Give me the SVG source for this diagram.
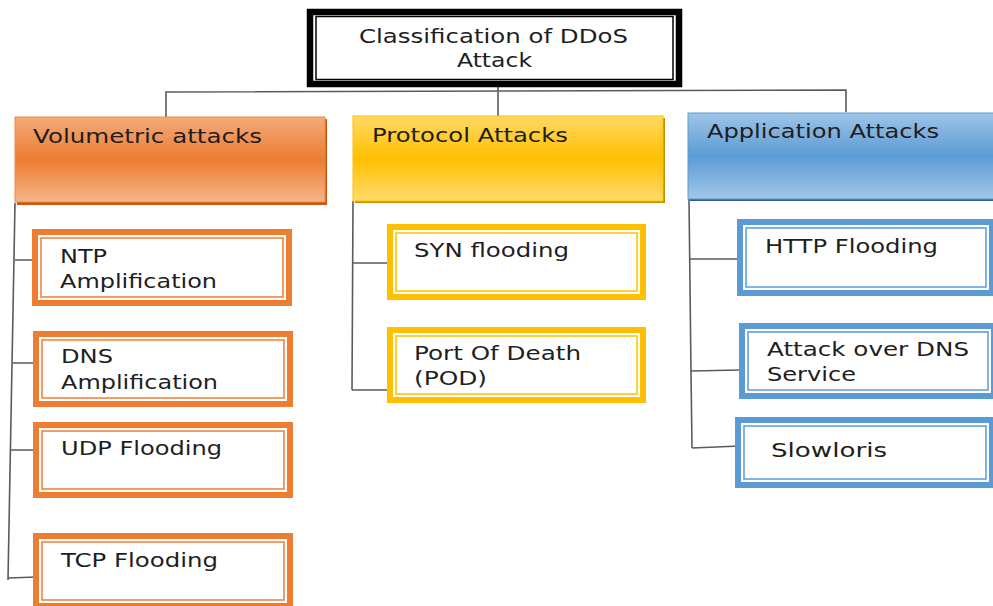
<svg xmlns="http://www.w3.org/2000/svg" width="993" height="606" viewBox="0 0 993 606">
<defs>
<linearGradient id="gOr" x1="0" y1="0" x2="0" y2="1">
<stop offset="0" stop-color="#F3AA7B"/><stop offset="0.5" stop-color="#ED7D31"/><stop offset="1" stop-color="#F5B48A"/>
</linearGradient>
<linearGradient id="gGd" x1="0" y1="0" x2="0" y2="1">
<stop offset="0" stop-color="#FFD965"/><stop offset="0.5" stop-color="#FFC000"/><stop offset="1" stop-color="#FFDB6E"/>
</linearGradient>
<linearGradient id="gBl" x1="0" y1="0" x2="0" y2="1">
<stop offset="0" stop-color="#9EC4E7"/><stop offset="0.5" stop-color="#5B9BD5"/><stop offset="1" stop-color="#A3C7E8"/>
</linearGradient>
</defs>
<style>
text{font-family:"DejaVu Sans",Verdana,sans-serif;font-size:20px;fill:#1e1e1e}
.conn{stroke:#5a5a5a;stroke-width:1.6;fill:none}
.oT{fill:#fff;stroke:#ED7D31;stroke-width:6}
.oI{fill:none;stroke:#ED7D31;stroke-width:1.5}
.yT{fill:#fff;stroke:#FFC000;stroke-width:6}
.yI{fill:none;stroke:#FFC000;stroke-width:1.5}
.bT{fill:#fff;stroke:#5B9BD5;stroke-width:6}
.bI{fill:none;stroke:#5B9BD5;stroke-width:1.5}
</style>
<rect width="993" height="606" fill="#fff"/>
<g id="connectors">
<path class="conn" d="M498 87 V117 M166 117 V92 L846 90 V112"/>
<path class="conn" d="M15 203 L8 580 M15 260 H36 M13 363 H36 M11 450 H36 M8 578 L37 577"/>
<path class="conn" d="M353 201 L352 390 M353 263 H390 M352 390 H390"/>
<path class="conn" d="M689 199 L691 372 L692 448 M690 259 H740 M691 371 L740 370 M692 448 L740 446"/>
</g>
<g id="root">
<rect x="310" y="12" width="369" height="72" fill="#fff" stroke="#000" stroke-width="6.5"/>
<rect x="316" y="16.5" width="357" height="63" fill="none" stroke="#000" stroke-width="1.5"/>
<text x="359" y="43" textLength="269" lengthAdjust="spacingAndGlyphs">Classification of DDoS</text>
<text x="457" y="67" textLength="75" lengthAdjust="spacingAndGlyphs">Attack</text>
</g>
<g id="volumetric">
<rect x="17" y="119" width="310" height="86" fill="#C55A11"/>
<rect x="15" y="117" width="310" height="85" fill="url(#gOr)" stroke="#EE8A48" stroke-width="1"/>
<text x="33" y="143" textLength="229" lengthAdjust="spacingAndGlyphs">Volumetric attacks</text>
</g>
<g id="protocol">
<rect x="355" y="118" width="310" height="85" fill="#BF9000"/>
<rect x="353" y="116" width="310" height="85" fill="url(#gGd)" stroke="#FFC000" stroke-width="1"/>
<text x="372" y="142" textLength="196" lengthAdjust="spacingAndGlyphs">Protocol Attacks</text>
</g>
<g id="application">
<rect x="690" y="115" width="310" height="86" fill="#2E5F8F"/>
<rect x="688" y="113" width="310" height="86" fill="url(#gBl)" stroke="#5B9BD5" stroke-width="1"/>
<text x="707" y="138" textLength="232" lengthAdjust="spacingAndGlyphs">Application Attacks</text>
</g>
<g id="ntp">
<rect class="oT" x="35" y="232" width="254" height="71"/>
<rect class="oI" x="41" y="238" width="242" height="59"/>
<text x="60" y="263" textLength="47" lengthAdjust="spacingAndGlyphs">NTP</text>
<text x="60" y="288" textLength="157" lengthAdjust="spacingAndGlyphs">Amplification</text>
</g>
<g id="dns-amp">
<rect class="oT" x="36" y="334" width="254" height="70"/>
<rect class="oI" x="42" y="340" width="242" height="58"/>
<text x="61" y="363" textLength="52" lengthAdjust="spacingAndGlyphs">DNS</text>
<text x="61" y="389" textLength="157" lengthAdjust="spacingAndGlyphs">Amplification</text>
</g>
<g id="udp">
<rect class="oT" x="36" y="425" width="254" height="70"/>
<rect class="oI" x="42" y="431" width="242" height="58"/>
<text x="61" y="455" textLength="161" lengthAdjust="spacingAndGlyphs">UDP Flooding</text>
</g>
<g id="tcp">
<rect class="oT" x="36" y="536" width="254" height="70"/>
<rect class="oI" x="42" y="542" width="242" height="58"/>
<text x="61" y="567" textLength="157" lengthAdjust="spacingAndGlyphs">TCP Flooding</text>
</g>
<g id="syn">
<rect class="yT" x="390" y="227" width="253" height="70"/>
<rect class="yI" x="396" y="233" width="241" height="58"/>
<text x="414" y="257" textLength="155" lengthAdjust="spacingAndGlyphs">SYN flooding</text>
</g>
<g id="pod">
<rect class="yT" x="390" y="330" width="253" height="70"/>
<rect class="yI" x="396" y="336" width="241" height="58"/>
<text x="414" y="360" textLength="167" lengthAdjust="spacingAndGlyphs">Port Of Death</text>
<text x="414" y="385" textLength="73" lengthAdjust="spacingAndGlyphs">(POD)</text>
</g>
<g id="http">
<rect class="bT" x="740" y="222" width="252" height="71"/>
<rect class="bI" x="746" y="228" width="240" height="59"/>
<text x="765" y="253" textLength="173" lengthAdjust="spacingAndGlyphs">HTTP Flooding</text>
</g>
<g id="dns-service">
<rect class="bT" x="742" y="326" width="252" height="70"/>
<rect class="bI" x="748" y="332" width="240" height="58"/>
<text x="767" y="356" textLength="202" lengthAdjust="spacingAndGlyphs">Attack over DNS</text>
<text x="767" y="381" textLength="89" lengthAdjust="spacingAndGlyphs">Service</text>
</g>
<g id="slowloris">
<rect class="bT" x="738" y="420" width="254" height="65"/>
<rect class="bI" x="744" y="426" width="242" height="53"/>
<text x="771" y="457" textLength="116" lengthAdjust="spacingAndGlyphs">Slowloris</text>
</g>
</svg>
